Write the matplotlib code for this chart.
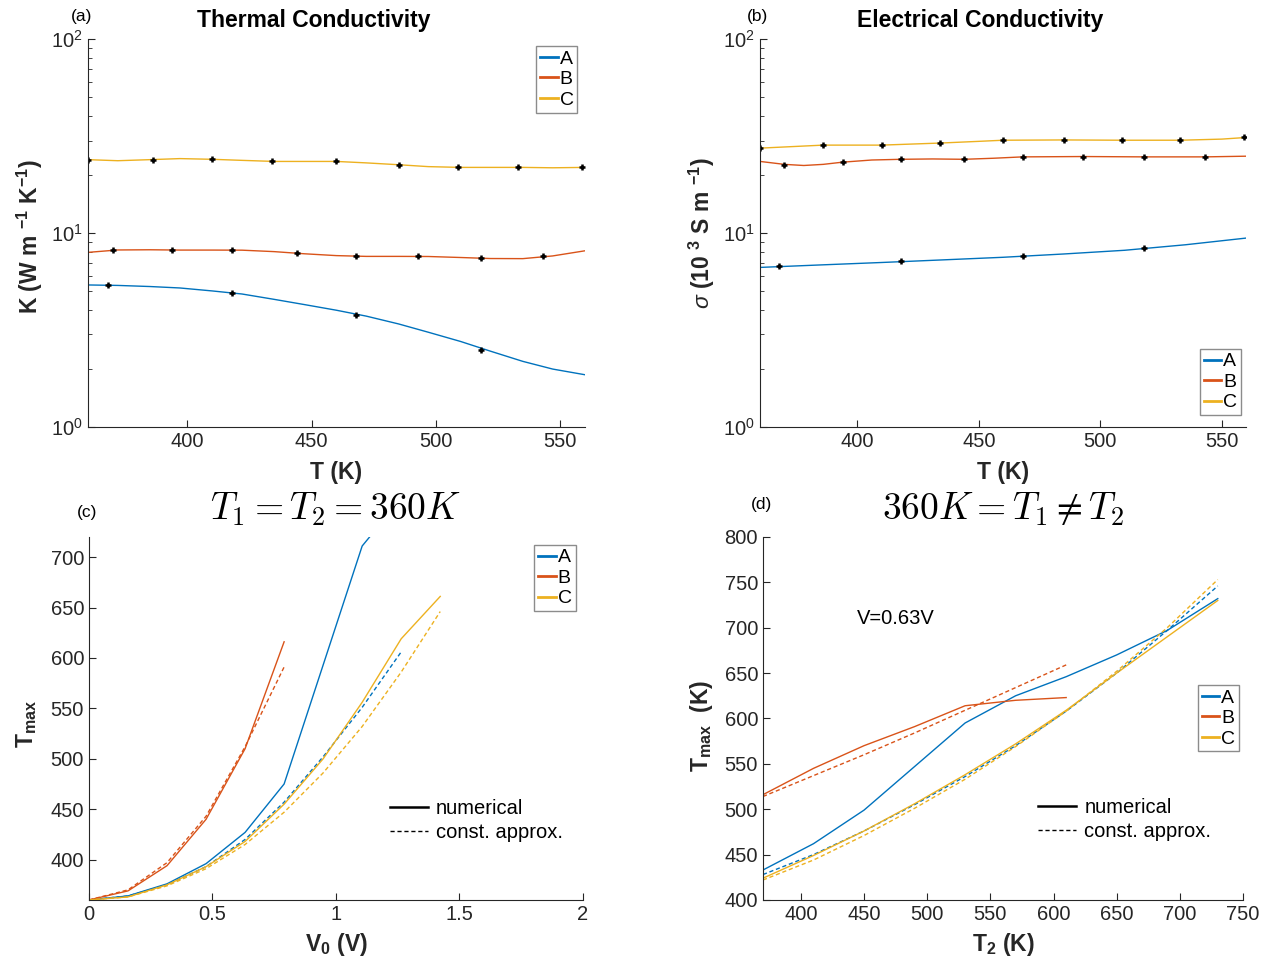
import matplotlib
matplotlib.use("Agg")
import matplotlib.pyplot as plt
from matplotlib.lines import Line2D

plt.rcParams['font.family'] = ['Liberation Sans', 'DejaVu Sans']
plt.rcParams['mathtext.fontset'] = 'custom'
plt.rcParams['mathtext.rm'] = 'Liberation Sans'
plt.rcParams['mathtext.it'] = 'Liberation Sans:italic'
plt.rcParams['mathtext.bf'] = 'Liberation Sans:bold'

colors = {'A': '#0072BD', 'B': '#D95319', 'C': '#EDB120'}

# ---- (a) thermal conductivity: measured points and fitted curves
ka_T = {'A': [368, 418, 468, 518],
        'B': [370, 394, 418, 444, 468, 493, 518, 543],
        'C': [360, 386, 410, 434, 460, 485, 509, 533, 559]}
ka_val = {'A': [5.40, 4.89, 3.78, 2.50],
          'B': [8.17, 8.17, 8.17, 7.85, 7.58, 7.58, 7.40, 7.58],
          'C': [23.9, 23.9, 24.0, 23.4, 23.4, 22.5, 21.8, 21.8, 21.8]}
ka_fit_T = [360, 372, 385, 397, 410, 422, 435, 447, 460, 472, 485, 497, 510, 522, 535, 547, 560]
ka_fit = {'A': [5.40, 5.37, 5.30, 5.21, 5.03, 4.85, 4.55, 4.28, 4.00, 3.73, 3.40, 3.08, 2.76, 2.46, 2.18, 1.99, 1.86],
          'B': [7.95, 8.18, 8.20, 8.17, 8.17, 8.16, 8.02, 7.82, 7.65, 7.58, 7.58, 7.57, 7.48, 7.39, 7.38, 7.62, 8.10],
          'C': [23.9, 23.6, 23.9, 24.2, 24.0, 23.7, 23.4, 23.4, 23.4, 23.0, 22.5, 22.0, 21.8, 21.8, 21.8, 21.7, 21.8]}

# ---- (b) electrical conductivity
sb_T = {'A': [368, 418, 468, 518],
        'B': [370, 394, 418, 444, 468, 493, 518, 543],
        'C': [360, 386, 410, 434, 460, 485, 509, 533, 559]}
sb_val = {'A': [6.73, 7.17, 7.61, 8.37],
          'B': [22.5, 23.2, 24.0, 24.0, 24.7, 24.7, 24.7, 24.7],
          'C': [27.4, 28.4, 28.4, 29.1, 30.1, 30.1, 30.1, 30.1, 31.1]}
sb_fit_T = {'A': [360, 385, 410, 435, 460, 485, 510, 535, 560],
            'B': [360, 370, 378, 386, 394, 406, 418, 431, 444, 456, 468, 493, 518, 543, 560],
            'C': [360, 386, 410, 434, 450, 460, 485, 509, 533, 550, 560]}
sb_fit = {'A': [6.65, 6.85, 7.05, 7.27, 7.50, 7.80, 8.15, 8.70, 9.42],
          'B': [23.4, 22.6, 22.3, 22.6, 23.2, 23.8, 24.0, 24.1, 24.0, 24.3, 24.7, 24.8, 24.7, 24.7, 24.9],
          'C': [27.4, 28.4, 28.4, 29.1, 29.7, 30.1, 30.2, 30.1, 30.1, 30.5, 31.1]}

# ---- (c) Tmax vs V0, T1 = T2 = 360 K
v0 = [0, 0.158, 0.316, 0.474, 0.632, 0.79, 0.948, 1.106, 1.264, 1.422]
tc_num = {'A': [360, 364, 376, 396, 427, 475, 593, 711, 758],
          'B': [360, 369, 394, 440, 510, 616],
          'C': [360, 363, 375, 393, 418, 455, 500, 556, 619, 661]}
tc_app = {'A': [360, 364, 375, 393, 420, 457, 502, 551, 606],
          'B': [360, 370, 397, 443, 512, 591],
          'C': [360, 363, 374, 391, 415, 447, 486, 532, 586, 646]}

# ---- (d) Tmax vs T2, T1 = 360 K, V = 0.63 V
t2 = [370, 410, 450, 490, 530, 570, 610, 650, 690, 730]
td_num = {'A': [433, 462, 499, 547, 595, 625, 646, 670, 697, 732],
          'B': [516, 545, 570, 591, 614, 620, 623],
          'C': [424, 449, 476, 506, 538, 572, 609, 650, 690, 730]}
td_app = {'A': [428, 450, 476, 505, 536, 570, 608, 650, 697, 746],
          'B': [514, 537, 560, 584, 609, 634, 659],
          'C': [422, 444, 471, 501, 533, 569, 608, 652, 700, 753]}

names = ['A', 'B', 'C']
txt = '#262626'
dash = (0, (3, 2))


def style(ax):
    for s in ['top', 'right']:
        ax.spines[s].set_visible(False)
    for s in ['left', 'bottom']:
        ax.spines[s].set_color(txt)
    ax.tick_params(which='both', direction='in', colors=txt, labelsize=14.5)
    ax.tick_params(which='major', length=5)
    ax.tick_params(which='minor', length=3)


def small_leg(ax, **kw):
    handles = [Line2D([], [], color=colors[n], lw=2.0) for n in names]
    return ax.legend(handles, names, handlelength=0.9, handletextpad=0.1, borderpad=0.2,
                     labelspacing=0.15, fancybox=False, edgecolor='0.55', framealpha=1,
                     fontsize=14, borderaxespad=0, **kw)


def line_leg(ax, anchor):
    lh = [Line2D([], [], color='k', lw=1.8), Line2D([], [], color='k', lw=1.0, ls=dash)]
    ax.legend(lh, ['numerical', 'const. approx.'], loc='center left', bbox_to_anchor=anchor,
              frameon=False, fontsize=14.5, handlelength=1.9, handletextpad=0.4, labelspacing=0.25)


lab = dict(fontsize=16.5, fontweight='bold', color=txt)

fig = plt.figure(figsize=(12.71, 9.65), dpi=100)
axa = fig.add_axes([0.0692, 0.5575, 0.3910, 0.4020])
axb = fig.add_axes([0.5980, 0.5575, 0.3824, 0.4020])
axc = fig.add_axes([0.0700, 0.0674, 0.3887, 0.3762])
axd = fig.add_axes([0.6003, 0.0674, 0.3777, 0.3762])

# (a)
for n in names:
    axa.plot(ka_fit_T, ka_fit[n], color=colors[n], lw=1.0)
    axa.plot(ka_T[n], ka_val[n], 'k+', ms=5, mew=1.8, ls='none')
axa.set_yscale('log')
axa.set_xlim(360, 560)
axa.set_ylim(1, 100)
axa.set_xticks([400, 450, 500, 550])
style(axa)
axa.set_xlabel('T (K)', labelpad=7, **lab)
axa.set_ylabel(r'K (W m $^{\mathbf{-1}}$ K$^{\mathbf{-1}}$)', **lab)
axa.yaxis.set_label_coords(-0.086, 0.49)
axa.text(0.455, 1.047, 'Thermal Conductivity', transform=axa.transAxes, ha='center', va='center',
         fontsize=16.5, fontweight='bold')
axa.text(-0.012, 1.057, '(a)', transform=axa.transAxes, ha='center', va='center', fontsize=12.5)
small_leg(axa, loc='upper right', bbox_to_anchor=(0.985, 0.982))

# (b)
for n in names:
    axb.plot(sb_fit_T[n], sb_fit[n], color=colors[n], lw=1.0)
    axb.plot(sb_T[n], sb_val[n], 'k+', ms=5, mew=1.8, ls='none')
axb.set_yscale('log')
axb.set_xlim(360, 560)
axb.set_ylim(1, 100)
axb.set_xticks([400, 450, 500, 550])
style(axb)
axb.set_xlabel('T (K)', labelpad=7, **lab)
axb.set_ylabel(r'$\sigma$ (10 $^{\mathbf{3}}$ S m $^{\mathbf{-1}}$)', **lab)
axb.yaxis.set_label_coords(-0.088, 0.5)
axb.text(0.453, 1.047, 'Electrical Conductivity', transform=axb.transAxes, ha='center', va='center',
         fontsize=16.5, fontweight='bold')
axb.text(-0.006, 1.057, '(b)', transform=axb.transAxes, ha='center', va='center', fontsize=12.5)
small_leg(axb, loc='lower right', bbox_to_anchor=(0.99, 0.03))

# (c)
for n in names:
    k = len(tc_num[n])
    axc.plot(v0[:k], tc_num[n], color=colors[n], lw=1.0)
    k = len(tc_app[n])
    axc.plot(v0[:k], tc_app[n], color=colors[n], lw=1.0, ls=dash)
axc.set_xlim(0, 2)
axc.set_ylim(360, 720)
axc.set_xticks([0, 0.5, 1, 1.5, 2])
axc.set_xticklabels(['0', '0.5', '1', '1.5', '2'])
axc.set_yticks([400, 450, 500, 550, 600, 650, 700])
style(axc)
axc.set_xlabel(r'V$_{\mathbf{0}}$ (V)', labelpad=5, **lab)
axc.set_ylabel(r'T$_{\mathbf{max}}$', **lab)
axc.yaxis.set_label_coords(-0.101, 0.485)
axc.text(0.5, 1.077, r'$T_1 = T_2 = 360K$', transform=axc.transAxes, ha='center', va='center',
         fontsize=27, math_fontfamily='cm')
axc.text(-0.004, 1.067, '(c)', transform=axc.transAxes, ha='center', va='center', fontsize=12.5)
leg = small_leg(axc, loc='upper right', bbox_to_anchor=(0.985, 0.978))
axc.add_artist(leg)
line_leg(axc, (0.572, 0.218))

# (d)
for n in names:
    k = len(td_num[n])
    axd.plot(t2[:k], td_num[n], color=colors[n], lw=1.0)
    k = len(td_app[n])
    axd.plot(t2[:k], td_app[n], color=colors[n], lw=1.0, ls=dash)
axd.set_xlim(370, 750)
axd.set_ylim(400, 800)
axd.set_xticks([400, 450, 500, 550, 600, 650, 700, 750])
axd.set_yticks([400, 450, 500, 550, 600, 650, 700, 750, 800])
style(axd)
axd.set_xlabel(r'T$_{\mathbf{2}}$ (K)', labelpad=5, **lab)
axd.set_ylabel(r'T$_{\mathbf{max}}$  (K)', **lab)
axd.yaxis.set_label_coords(-0.10, 0.48)
axd.text(0.5, 1.077, r'$360K = T_1 \neq T_2$', transform=axd.transAxes, ha='center', va='center',
         fontsize=27, math_fontfamily='cm')
axd.text(-0.004, 1.09, '(d)', transform=axd.transAxes, ha='center', va='center', fontsize=12.5)
axd.text(0.195, 0.775, 'V=0.63V', transform=axd.transAxes, ha='left', va='center', fontsize=14.5)
leg = small_leg(axd, loc='upper right', bbox_to_anchor=(0.992, 0.592))
axd.add_artist(leg)
line_leg(axd, (0.535, 0.222))

fig.savefig('out.png', dpi=100)
